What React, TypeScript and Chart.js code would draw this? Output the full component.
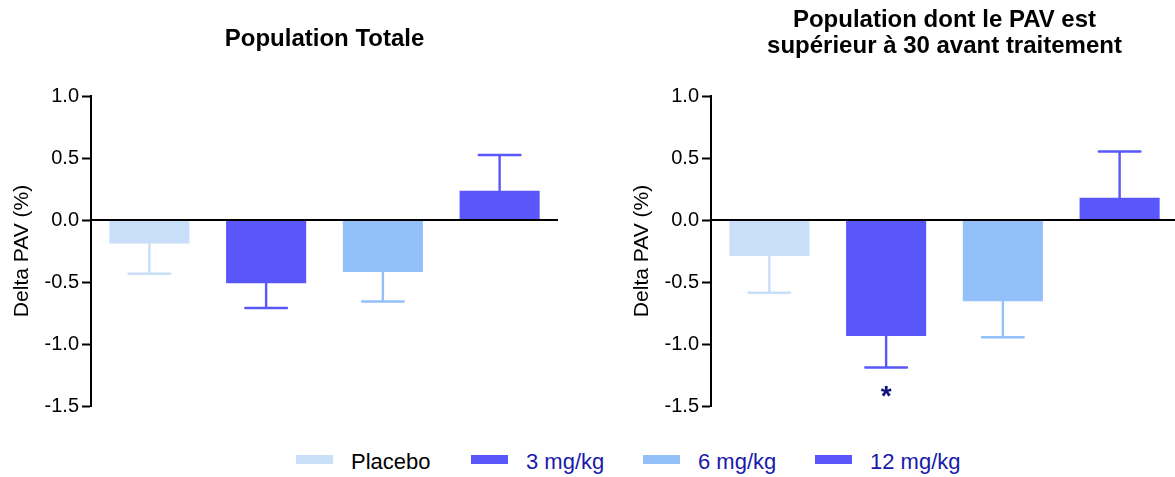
import React, { useEffect, useRef } from 'react';
import { Chart, registerables } from 'chart.js';

Chart.register(...registerables);

const categories = ['Placebo', '3 mg/kg', '6 mg/kg', '12 mg/kg'];
const barColors = ['#C9DEF8', '#5957FA', '#93C0F8', '#5957FA'];
const legendTextColors = ['#000000', '#1a1aa8', '#1a1aa8', '#1a1aa8'];
const yTicks = [-1.5, -1.0, -0.5, 0.0, 0.5, 1.0];

const titleTotal = 'Population Totale';
const titleHigh = ['Population dont le PAV est', 'supérieur à 30 avant traitement'];
const yAxisTitle = 'Delta PAV (%)';

// Population totale: means and (one-sided) error magnitudes
const totalMeans = [-0.19, -0.51, -0.42, 0.235];
const totalErrors = [0.243, 0.2, 0.237, 0.289];
const totalMarks = ['', '', '', ''];

// Population PAV > 30
const highMeans = [-0.29, -0.935, -0.655, 0.18];
const highErrors = [0.297, 0.255, 0.29, 0.372];
const highMarks = ['', '*', '', ''];

const FONT = "'Liberation Sans', Arial, Helvetica, sans-serif";

function makeErrorPlugin(means: number[], errors: number[], marks: string[]) {
  return {
    id: 'errorBars',
    afterDatasetsDraw(chart: any) {
      const { ctx, chartArea } = chart;
      const y = chart.scales.y;
      const meta = chart.getDatasetMeta(0);
      ctx.save();
      meta.data.forEach((bar: any, i: number) => {
        const m = means[i];
        const dir = m >= 0 ? 1 : -1;
        const end = m + dir * errors[i];
        const x = bar.x;
        const y0 = y.getPixelForValue(m);
        const y1 = y.getPixelForValue(end);
        const half = bar.width * 0.26;
        ctx.strokeStyle = barColors[i];
        ctx.lineWidth = 2.4;
        ctx.lineCap = 'round';
        ctx.beginPath();
        ctx.moveTo(x, y0);
        ctx.lineTo(x, y1);
        ctx.moveTo(x - half, y1);
        ctx.lineTo(x + half, y1);
        ctx.stroke();
        if (marks[i]) {
          ctx.fillStyle = '#10107a';
          ctx.font = `bold 28px ${FONT}`;
          ctx.textAlign = 'center';
          ctx.textBaseline = 'alphabetic';
          ctx.fillText(marks[i], x, y1 + 37);
        }
      });
      const yz = y.getPixelForValue(0);
      ctx.strokeStyle = '#000';
      ctx.lineWidth = 2;
      ctx.lineCap = 'butt';
      ctx.beginPath();
      ctx.moveTo(chartArea.left, yz);
      ctx.lineTo(chartArea.right, yz);
      ctx.stroke();
      ctx.restore();
    },
  };
}

function makeConfig(
  means: number[],
  errors: number[],
  marks: string[],
  title: string | string[],
  titleLineHeight: number,
  titlePadding: { top: number; bottom: number }
): any {
  return {
    type: 'bar',
    data: {
      labels: categories,
      datasets: [
        {
          data: means,
          backgroundColor: barColors,
          borderWidth: 0,
          barPercentage: 0.686,
          categoryPercentage: 1,
        },
      ],
    },
    options: {
      responsive: false,
      animation: false,
      layout: { padding: { left: 0, right: 0, top: 0, bottom: 24 } },
      plugins: {
        legend: { display: false },
        tooltip: { enabled: false },
        title: {
          display: true,
          text: title,
          fullSize: false,
          color: '#000',
          font: { family: FONT, size: 24, weight: 'bold', lineHeight: titleLineHeight },
          padding: titlePadding,
        },
      },
      scales: {
        x: { display: false },
        y: {
          min: -1.5,
          max: 1.0,
          afterFit: (s: any) => {
            s.width = 91;
          },
          afterBuildTicks: (s: any) => {
            s.ticks = yTicks.map((v) => ({ value: v }));
          },
          ticks: {
            callback: (v: any) => Number(v).toFixed(1),
            font: { family: FONT, size: 20 },
            color: '#000',
            padding: 3,
          },
          grid: {
            drawOnChartArea: false,
            drawTicks: true,
            tickLength: 9,
            tickWidth: 2,
            tickColor: '#000',
          },
          border: { display: true, color: '#000', width: 2 },
          title: {
            display: true,
            text: yAxisTitle,
            color: '#000',
            font: { family: FONT, size: 21 },
            padding: { top: 10, bottom: 0 },
          },
        },
      },
    },
    plugins: [makeErrorPlugin(means, errors, marks)],
  };
}

function BarPanel(props: {
  left: number;
  means: number[];
  errors: number[];
  marks: string[];
  title: string | string[];
  titleLineHeight: number;
  titlePadding: { top: number; bottom: number };
}) {
  const ref = useRef<HTMLCanvasElement | null>(null);
  useEffect(() => {
    if (!ref.current) return;
    const chart = new Chart(
      ref.current,
      makeConfig(props.means, props.errors, props.marks, props.title, props.titleLineHeight, props.titlePadding)
    );
    return () => chart.destroy();
  }, []);
  return (
    <canvas
      ref={ref}
      width={558}
      height={430}
      style={{ position: 'absolute', left: props.left, top: 0, width: 558, height: 430 }}
    />
  );
}

const legendLefts = [296, 471, 643, 815];

export default function App() {
  return (
    <div
      style={{
        position: 'fixed',
        left: 0,
        top: 0,
        width: 1175,
        height: 477,
        overflow: 'hidden',
        background: '#fff',
      }}
    >
      <BarPanel
        left={0}
        means={totalMeans}
        errors={totalErrors}
        marks={totalMarks}
        title={titleTotal}
        titleLineHeight={1.2}
        titlePadding={{ top: 24.6, bottom: 42.6 }}
      />
      <BarPanel
        left={620}
        means={highMeans}
        errors={highErrors}
        marks={highMarks}
        title={titleHigh}
        titleLineHeight={26 / 24}
        titlePadding={{ top: 7, bottom: 37 }}
      />
      {categories.map((c, i) => (
        <div
          key={c}
          style={{
            position: 'absolute',
            left: legendLefts[i],
            top: 450,
            height: 24,
            display: 'flex',
            alignItems: 'flex-start',
            whiteSpace: 'nowrap',
          }}
        >
          <span
            style={{
              display: 'inline-block',
              width: 37,
              height: 9,
              marginTop: 5,
              marginRight: 18,
              background: barColors[i],
            }}
          />
          <span
            style={{
              fontFamily: FONT,
              fontSize: 22,
              lineHeight: '24px',
              color: legendTextColors[i],
            }}
          >
            {c}
          </span>
        </div>
      ))}
    </div>
  );
}
